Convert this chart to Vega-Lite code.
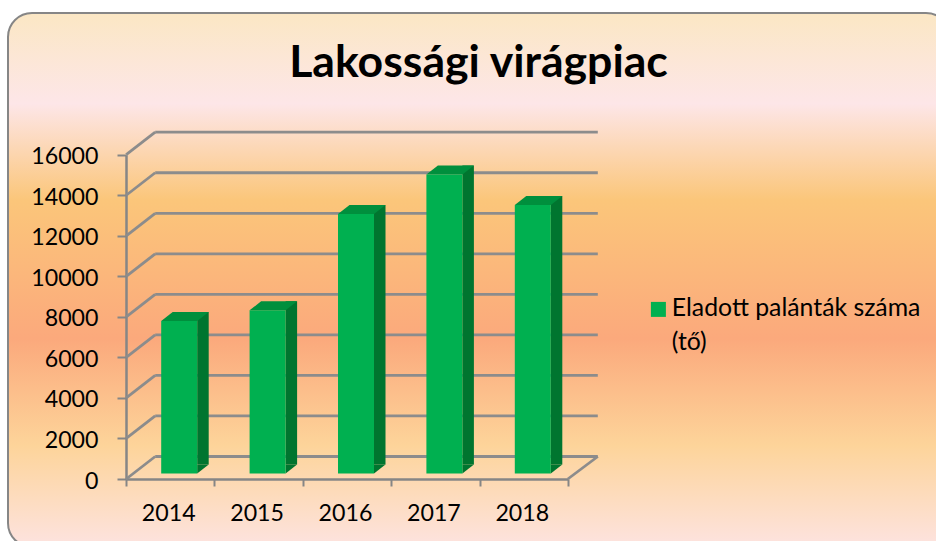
{
"$schema":"https://vega.github.io/schema/vega-lite/v6.json",
"width":942,"height":534,
"autosize":{"type":"none"},
"padding":{"left":8,"top":13,"right":0,"bottom":0},
"background":"white",
"view":{"cornerRadius":24,"stroke":"#868686","strokeWidth":2,"fill":{"gradient":"linear","x1":0,"y1":0,"x2":0,"y2":1,"stops":[{"offset":0,"color":"#FBE7C4"},{"offset":0.17,"color":"#FDE6E8"},{"offset":0.35,"color":"#FBC67A"},{"offset":0.61,"color":"#FBA97C"},{"offset":0.81,"color":"#FDD49A"},{"offset":1,"color":"#FDE3E0"}]}},
"title":{"text":"Lakossági virágpiac","font":"Lato","fontWeight":"bold","fontSize":44.6,"color":"#000000","anchor":"middle","frame":"group","offset":-74,"dx":-0.5},
"datasets":{
"bars":[{"year":"2014","value":7520,"series":"Eladott palánták száma (tő)"},{"year":"2015","value":8050,"series":"Eladott palánták száma (tő)"},{"year":"2016","value":12800,"series":"Eladott palánták száma (tő)"},{"year":"2017","value":14750,"series":"Eladott palánták száma (tő)"},{"year":"2018","value":13250,"series":"Eladott palánták száma (tő)"}],
"grid":[{"value":0,"first":"2014","last":"2018"},{"value":2000,"first":"2014","last":"2018"},{"value":4000,"first":"2014","last":"2018"},{"value":6000,"first":"2014","last":"2018"},{"value":8000,"first":"2014","last":"2018"},{"value":10000,"first":"2014","last":"2018"},{"value":12000,"first":"2014","last":"2018"},{"value":14000,"first":"2014","last":"2018"},{"value":16000,"first":"2014","last":"2018"}]
},
"layer":[
{"data":{"name":"grid"},"mark":{"type":"rule","color":"#8C8C8C","strokeWidth":2.8,"xOffset":-15,"x2Offset":74,"yOffset":-22.5,"y2Offset":-22.5},
 "encoding":{
 "x":{"field":"first","type":"nominal","title":null,"sort":null,"scale":{"type":"band","domain":["2014","2015","2016","2017","2018"],"range":[118,560],"paddingInner":0,"paddingOuter":0},
  "axis":{"offset":-68,"orient":"bottom","labelAngle":0,"title":null,"domainColor":"#868686","domainWidth":2.5,"tickColor":"#868686","tickWidth":2,"tickSize":7,"tickBand":"extent","labelFont":"Lato","labelFontSize":23.2,"labelColor":"#000000","labelPadding":16,"labelOffset":-2,"grid":false}},
 "x2":{"field":"last"},
 "y":{"field":"value","type":"quantitative","title":null,"scale":{"domain":[0,16000],"range":[466,141.7],"nice":false},
  "axis":{"offset":-118,"orient":"left","values":[0,2000,4000,6000,8000,10000,12000,14000,16000],"format":"d","title":null,"domainColor":"#868686","domainWidth":2.5,"tickColor":"#868686","tickWidth":2,"tickSize":9,"labelFont":"Lato","labelFontSize":23.2,"labelColor":"#000000","labelPadding":19,"labelOffset":2,"grid":false}}}},
{"data":{"name":"grid"},"mark":{"type":"rule","color":"#8C8C8C","strokeWidth":2.8,"xOffset":-44,"x2Offset":-15,"yOffset":0,"y2Offset":-22.5},
 "encoding":{"x":{"field":"first","type":"nominal"},"x2":{"field":"first"},"y":{"field":"value","type":"quantitative"},"y2":{"field":"value"}}},
{"data":{"name":"grid"},"transform":[{"filter":"datum.value==0"}],"mark":{"type":"rule","color":"#8C8C8C","strokeWidth":2.8,"xOffset":44,"x2Offset":74,"yOffset":0,"y2Offset":-22.5},
 "encoding":{"x":{"field":"last","type":"nominal"},"x2":{"field":"last"},"y":{"field":"value","type":"quantitative"},"y2":{"field":"value"}}},
{"data":{"name":"bars"},"mark":{"type":"bar","color":"#00752F","size":11.5,"xOffset":32.75,"yOffset":-14.5,"y2Offset":-14.5},
 "encoding":{"x":{"field":"year","type":"nominal"},"y":{"field":"value","type":"quantitative"}}},
{"data":{"name":"bars"},"mark":{"type":"point","filled":true,"opacity":1,"color":"#00752F","size":4,"strokeWidth":0,"shape":"M27,-5.5L38.5,-14.5L27,-14.5Z"},
 "encoding":{"x":{"field":"year","type":"nominal"},"y":{"datum":0,"type":"quantitative"}}},
{"data":{"name":"bars"},"mark":{"type":"point","filled":true,"opacity":1,"color":"#008F3D","size":4,"strokeWidth":0,"shape":"M-9,-5.5L2.5,-14.5L38.5,-14.5L27,-5.5Z"},
 "encoding":{"x":{"field":"year","type":"nominal"},"y":{"field":"value","type":"quantitative"}}},
{"data":{"name":"bars"},"mark":{"type":"bar","size":36,"xOffset":9,"yOffset":-5.5,"y2Offset":-5.5},
 "encoding":{"x":{"field":"year","type":"nominal"},"y":{"field":"value","type":"quantitative"},
 "color":{"field":"series","type":"nominal","scale":{"range":["#00B050"]},
  "legend":{"orient":"none","legendX":638,"legendY":284,"title":null,"symbolType":"square","symbolSize":225,"symbolStrokeWidth":0,"labelFont":"Lato","labelFontSize":24.8,"labelColor":"#000000","labelExpr":"['Eladott palánták száma','(tő)']","labelLimit":300,"labelOffset":1,"encode":{"labels":{"update":{"lineHeight":{"value":34}}}}}}}}
]
}
